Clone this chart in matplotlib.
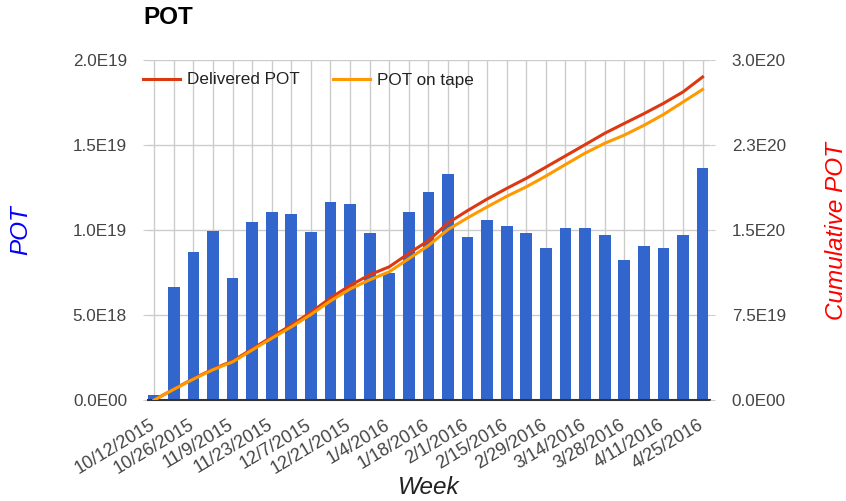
import matplotlib
matplotlib.use("Agg")
import matplotlib.pyplot as plt
import numpy as np
from matplotlib.lines import Line2D
from matplotlib.transforms import ScaledTranslation

# ---------------- data ----------------
weeks = ["10/12/2015", "10/19/2015", "10/26/2015", "11/2/2015", "11/9/2015",
         "11/16/2015", "11/23/2015", "11/30/2015", "12/7/2015", "12/14/2015",
         "12/21/2015", "12/28/2015", "1/4/2016", "1/11/2016", "1/18/2016",
         "1/25/2016", "2/1/2016", "2/8/2016", "2/15/2016", "2/22/2016",
         "2/29/2016", "3/7/2016", "3/14/2016", "3/21/2016", "3/28/2016",
         "4/4/2016", "4/11/2016", "4/18/2016", "4/25/2016"]

# weekly POT, in units of 1E18
weekly_pot = [0.30, 6.63, 8.69, 9.96, 7.16, 10.49, 11.04, 10.94, 9.90, 11.67,
              11.51, 9.80, 7.45, 11.04, 12.22, 13.27, 9.57, 10.59, 10.24, 9.80,
              8.96, 10.14, 10.14, 9.71, 8.24, 9.06, 8.96, 9.71, 13.67]

# cumulative POT, in units of 1E20
delivered_cum = [0.0, 0.096, 0.188, 0.273, 0.344, 0.451, 0.557, 0.661, 0.774, 0.900,
                 1.010, 1.105, 1.175, 1.294, 1.406, 1.562, 1.671, 1.773, 1.867, 1.956,
                 2.055, 2.154, 2.253, 2.353, 2.440, 2.526, 2.617, 2.718, 2.850]
on_tape_cum = [0.0, 0.094, 0.184, 0.267, 0.336, 0.441, 0.544, 0.645, 0.754, 0.874,
               0.979, 1.060, 1.131, 1.247, 1.362, 1.504, 1.607, 1.704, 1.797, 1.881,
               1.976, 2.078, 2.178, 2.265, 2.337, 2.423, 2.519, 2.629, 2.740]

left_ticks = [0, 5e18, 1e19, 1.5e19, 2e19]
left_labels = ["0.0E00", "5.0E18", "1.0E19", "1.5E19", "2.0E19"]
right_ticks = [0, 7.5e19, 1.5e20, 2.25e20, 3e20]
right_labels = ["0.0E00", "7.5E19", "1.5E20", "2.3E20", "3.0E20"]

series_names = ["Delivered POT", "POT on tape"]

# ---------------- style ----------------
plt.rcParams['font.family'] = ['Liberation Sans', 'DejaVu Sans']
BLUE = '#3366cc'
RED = '#dc3912'
ORANGE = '#ff9900'
GRID = '#cccccc'
TXT = '#444444'

W, H = 846, 501
L, R, T, B = 148, 710, 60, 400

fig = plt.figure(figsize=(W / 100, H / 100), dpi=100)
ax = fig.add_axes([L / W, 1 - B / H, (R - L) / W, (B - T) / H])

x = np.arange(len(weeks))
ax.bar(x, np.array(weekly_pot) * 1e18, width=0.6, color=BLUE, zorder=2)
ax.set_xlim(-0.317, 28.38)
ax.set_ylim(0, 2e19)
ax.set_axisbelow(True)

ax.set_yticks(left_ticks)
ax.set_yticklabels(left_labels)
ax.set_xticks(x)
ax.set_xticklabels([w if i % 2 == 0 else '' for i, w in enumerate(weeks)],
                   rotation=31, ha='right', va='top', rotation_mode='anchor')
ax.grid(True, axis='both', color=GRID, lw=1)
ax.tick_params(axis='y', length=3.6, color=GRID, pad=11.5, labelsize=12.3, labelcolor=TXT)
ax.tick_params(axis='x', length=0, pad=9, labelsize=13, labelcolor=TXT)
off = ScaledTranslation(-5 / 100, -4 / 100, fig.dpi_scale_trans)
for lab in ax.get_xticklabels():
    lab.set_transform(lab.get_transform() + off)
for s in ['left', 'right', 'top']:
    ax.spines[s].set_visible(False)
ax.spines['bottom'].set_color('#333333')
ax.spines['bottom'].set_linewidth(1.5)
ax.spines['bottom'].set_zorder(5)

ax2 = ax.twinx()
ax2.plot(x, np.array(delivered_cum) * 1e20, color=RED, lw=2.2, zorder=3)
ax2.plot(x, np.array(on_tape_cum) * 1e20, color=ORANGE, lw=2.2, zorder=3)
ax2.set_ylim(0, 3e20)
ax2.set_yticks(right_ticks)
ax2.set_yticklabels(right_labels)
ax2.tick_params(axis='y', length=3.6, color=GRID, pad=12, labelsize=12.3, labelcolor=TXT)
for s in ax2.spines.values():
    s.set_visible(False)

# legend
handles = [Line2D([], [], color=RED, lw=2.2), Line2D([], [], color=ORANGE, lw=2.2)]
leg = fig.legend(handles, series_names, loc='center left',
                 bbox_to_anchor=(143 / W, 1 - 80 / H), frameon=False, ncol=2,
                 fontsize=12.3, handlelength=2.16, handletextpad=0.41,
                 columnspacing=1.93, borderaxespad=0, borderpad=0)
for t in leg.get_texts():
    t.set_color('#222222')

# titles
fig.text(143 / W, 1 - 17.5 / H, 'POT', fontsize=17.5, fontweight='bold',
         ha='left', va='center', color='#000000')
fig.text(21 / W, 1 - 230 / H, 'POT', rotation=90, fontsize=17.5, style='italic',
         color='#0000ff', ha='center', va='center')
fig.text(836 / W, 1 - 231 / H, 'Cumulative POT', rotation=90, fontsize=17.5,
         style='italic', color='#ff0000', ha='center', va='center')
fig.text(429 / W, 1 - 488 / H, 'Week', fontsize=17.5, style='italic',
         color='#222222', ha='center', va='center')

fig.savefig('out.png', dpi=100)
